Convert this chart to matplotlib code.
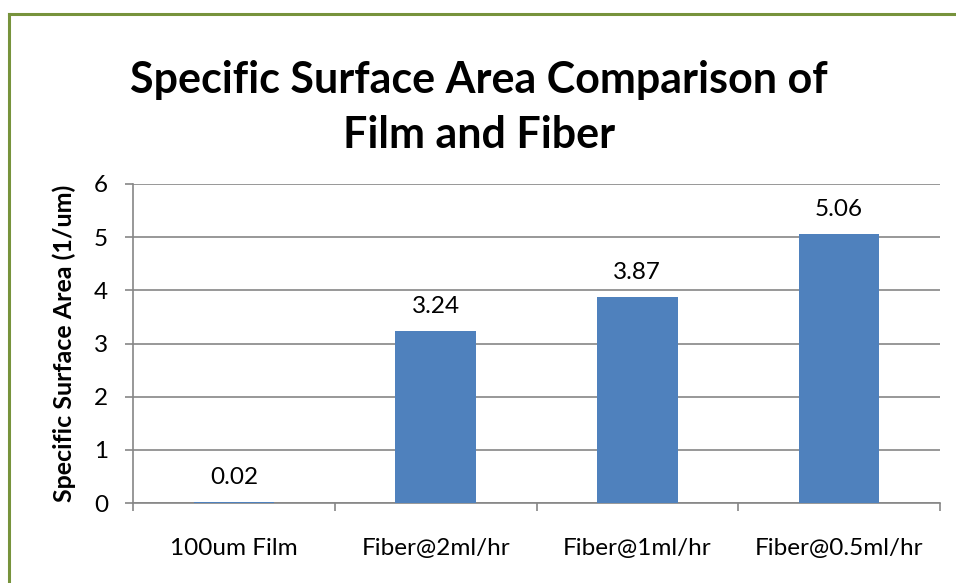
import numpy as np
import matplotlib.pyplot as plt
from matplotlib.lines import Line2D

# chart data
categories = ["100um Film", "Fiber@2ml/hr", "Fiber@1ml/hr", "Fiber@0.5ml/hr"]
values = [0.02, 3.24, 3.87, 5.06]
yticks = [0, 1, 2, 3, 4, 5, 6]
title_lines = ["Specific Surface Area Comparison of", "Film and Fiber"]

plt.rcParams['font.family'] = ['Lato', 'DejaVu Sans']

fig = plt.figure(figsize=(9.56, 5.83), dpi=100)
ax = fig.add_axes([133/956, 1 - 503/583, (940 - 133)/956, (503 - 184)/583])

grid_col = '#868686'
x = np.arange(len(categories))
bars = ax.bar(x, values, width=0.4, color='#4F81BD', zorder=3)

for xi, v in zip(x, values):
    ax.annotate(f"{v:.2f}", (xi, v), xytext=(0, 10), textcoords='offset points',
                ha='center', va='bottom', fontsize=17.5)

ax.set_xlim(-0.5, len(categories) - 0.5)
ax.set_ylim(0, 6)
ax.set_yticks(yticks)
ax.set_yticklabels([str(t) for t in yticks], fontsize=17.5)
ax.yaxis.grid(True, color=grid_col, linewidth=1.2, zorder=0)

# category ticks at boundaries, labels centered
ax.set_xticks(np.arange(len(categories) + 1) - 0.5)
ax.set_xticklabels([])
ax.set_xticks(x, minor=True)
ax.set_xticklabels(categories, minor=True, fontsize=17.5)
ax.tick_params(axis='x', which='minor', length=0, pad=25)
ax.tick_params(axis='x', which='major', length=6, color=grid_col, width=1.2)
ax.tick_params(axis='y', length=6, color=grid_col, width=1.2, pad=12)

for s in ['top', 'right']:
    ax.spines[s].set_visible(False)
for s in ['left', 'bottom']:
    ax.spines[s].set_color(grid_col)
    ax.spines[s].set_linewidth(1.2)

ax.set_ylabel("Specific Surface Area (1/um)", fontsize=18, fontweight='bold', labelpad=13)

# two-line title, each line placed on its own baseline
for line, base in zip(title_lines, [93, 148]):
    fig.text(479/956, 1 - base/583, line, ha='center', va='baseline',
             fontsize=31, fontweight='bold')

# green frame (top and left edges)
border = '#77933C'
fig.add_artist(Line2D([9/956, 9/956], [0, 1 - 14/583], color=border, linewidth=2.2))
fig.add_artist(Line2D([9/956, 1], [1 - 14/583, 1 - 14/583], color=border, linewidth=2.2))

plt.savefig('out.png', dpi=100)
